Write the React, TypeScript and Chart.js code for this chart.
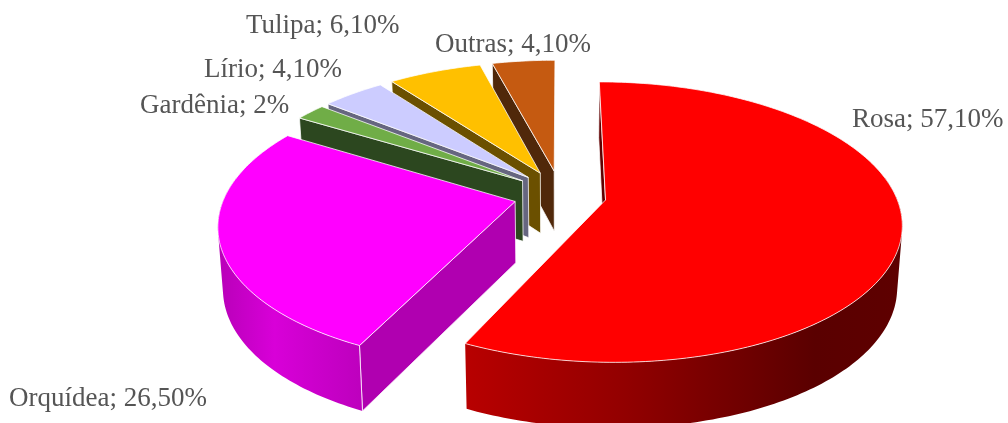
import React, { useEffect, useRef } from "react";
import { Chart, registerables } from "chart.js";

Chart.register(...registerables);

const names = ["Rosa", "Orquídea", "Gardênia", "Lírio", "Tulipa", "Outras"];
const values = [57.1, 26.5, 2, 4.1, 6.1, 4.1];
const valueTexts = ["57,10%", "26,50%", "2%", "4,10%", "6,10%", "4,10%"];
const topColors = ["#FF0000", "#FF00FF", "#70AD47", "#CCCCFF", "#FFC000", "#C55A11"];
const cutColors = ["#600000", "#B000B0", "#2C471F", "#666680", "#6B5000", "#50280A"];
const labelAnchors: [number, number][] = [
  [852, 127], [9, 406], [140, 113], [204, 77], [246, 33], [435, 52],
];

const GEO = { cx: 560, cy: 194.5, rx: 290, ry: 135, k: 0.157, ex: 0.16, ey: 0.18, shrink: 0.985 };

type Pt = [number, number];

function project(X: number, Y: number, low: boolean): Pt {
  const s = 1 / (1 - GEO.k * Y);
  const m = low ? GEO.shrink : 1;
  return [
    GEO.cx + GEO.rx * X * s * m,
    GEO.cy + GEO.ry * Y * s * m + (low ? 61 + 7 * Y : 0),
  ];
}

function signedArea(pts: Pt[]) {
  let a = 0;
  pts.forEach((p, i) => {
    const q = pts[(i + 1) % pts.length];
    a += p[0] * q[1] - q[0] * p[1];
  });
  return a;
}

function addPoly(ctx: CanvasRenderingContext2D, pts: Pt[]) {
  pts.forEach((p, i) => (i ? ctx.lineTo(p[0], p[1]) : ctx.moveTo(p[0], p[1])));
  ctx.closePath();
}

function poly(ctx: CanvasRenderingContext2D, pts: Pt[], fill: string) {
  ctx.beginPath();
  addPoly(ctx, pts);
  ctx.fillStyle = fill;
  ctx.fill();
  ctx.strokeStyle = "rgba(255,255,255,0.85)";
  ctx.lineWidth = 0.9;
  ctx.lineJoin = "round";
  ctx.stroke();
}

const pie3d = {
  id: "pie3d",
  beforeDatasetsDraw(chart: any) {
    const ctx: CanvasRenderingContext2D = chart.ctx;
    const arcs = chart.getDatasetMeta(0).data;
    ctx.save();
    for (let i = arcs.length - 1; i >= 0; i--) {
      // clockwise angle measured from 12 o'clock
      const a0 = arcs[i].startAngle + Math.PI / 2;
      const a1 = arcs[i].endAngle + Math.PI / 2;
      const mid = (a0 + a1) / 2;
      const ox = GEO.ex * Math.sin(mid);
      const oy = -GEO.ey * Math.cos(mid);
      const rim = (a: number, low: boolean) =>
        project(ox + Math.sin(a), oy - Math.cos(a), low);
      const apexTop = project(ox, oy, false);
      const apexLow = project(ox, oy, true);

      // cut faces that look towards the viewer
      if (-Math.sin(a0) > -0.001) poly(ctx, [rim(a0, false), apexTop, apexLow, rim(a0, true)], cutColors[i]);
      if (Math.sin(a1) > 0.001) poly(ctx, [rim(a1, false), apexTop, apexLow, rim(a1, true)], cutColors[i]);

      // outer wall, front part only
      const from = Math.max(a0, (80 * Math.PI) / 180);
      const to = Math.min(a1, (280 * Math.PI) / 180);
      if (to > from) {
        const n = Math.ceil(((to - from) * 180) / Math.PI);
        const at = (j: number) => from + ((to - from) * j) / n;
        const xs: number[] = [];
        for (let j = 0; j <= n; j++) xs.push(rim(at(j), false)[0]);
        const g = ctx.createLinearGradient(Math.min(...xs), 0, Math.max(...xs), 0);
        if (i === 0) {
          g.addColorStop(0, "#B80000");
          g.addColorStop(0.35, "#940000");
          g.addColorStop(0.8, "#5A0000");
          g.addColorStop(1, "#5E0000");
        } else {
          g.addColorStop(0, "#B800B8");
          g.addColorStop(0.4, "#D800D8");
          g.addColorStop(1, "#BE00BE");
        }
        // one path of equally wound quads, so that no seams or holes show
        ctx.beginPath();
        for (let j = 0; j < n; j++) {
          const q: Pt[] = [rim(at(j), false), rim(at(j + 1), false), rim(at(j + 1), true), rim(at(j), true)];
          addPoly(ctx, signedArea(q) < 0 ? q.reverse() : q);
        }
        ctx.fillStyle = g;
        ctx.fill("nonzero");
        // edge where the wall meets the cut face
        if (a0 >= from) {
          const p = rim(a0, false);
          const q = rim(a0, true);
          ctx.beginPath();
          ctx.moveTo(p[0], p[1]);
          ctx.lineTo(q[0], q[1]);
          ctx.strokeStyle = "rgba(255,255,255,0.85)";
          ctx.lineWidth = 0.9;
          ctx.stroke();
        }
      }

      // top face
      const top: Pt[] = [apexTop];
      const steps = Math.max(4, Math.ceil(((a1 - a0) * 180) / Math.PI));
      for (let j = 0; j <= steps; j++) top.push(rim(a0 + ((a1 - a0) * j) / steps, false));
      poly(ctx, top, topColors[i]);
    }

    ctx.font = '27px "Liberation Serif"';
    ctx.fillStyle = "#555555";
    ctx.textBaseline = "alphabetic";
    ctx.textAlign = "left";
    names.forEach((name, i) => {
      ctx.fillText(`${name}; ${valueTexts[i]}`, labelAnchors[i][0], labelAnchors[i][1]);
    });
    ctx.restore();
    return false;
  },
};

export default function App() {
  const ref = useRef<HTMLCanvasElement | null>(null);
  useEffect(() => {
    document.body.style.margin = "0";
    document.body.style.background = "#ffffff";
    const chart = new Chart(ref.current as HTMLCanvasElement, {
      type: "pie",
      data: {
        labels: names,
        datasets: [{ data: values, backgroundColor: topColors }],
      },
      options: {
        animation: false,
        responsive: false,
        rotation: 0,
        plugins: { legend: { display: false }, tooltip: { enabled: false }, title: { display: false } },
      },
      plugins: [pie3d],
    } as any);
    return () => chart.destroy();
  }, []);
  return <canvas ref={ref} width={1008} height={423} style={{ display: "block" }} />;
}
